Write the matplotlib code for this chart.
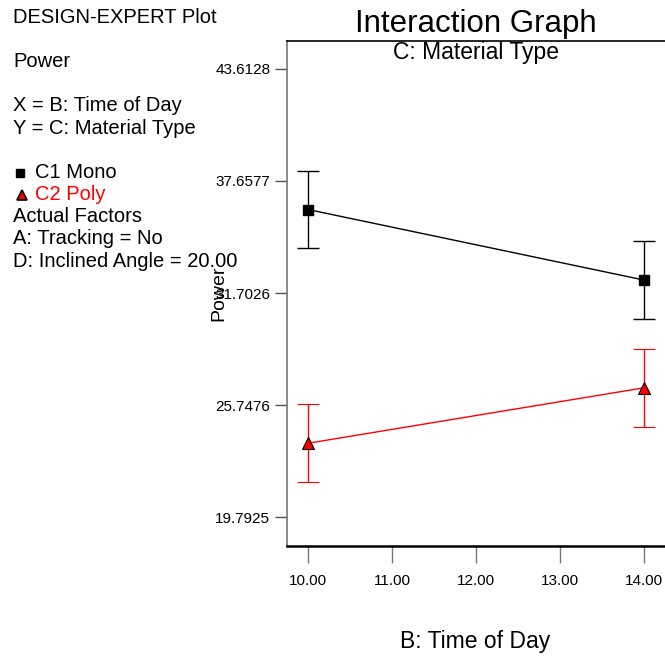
import numpy as np
import matplotlib.pyplot as plt

plt.rcParams['font.family'] = ['Liberation Sans', 'DejaVu Sans']

# time of day levels and predicted power for each material type
time_of_day = [10.0, 14.0]
mono_power = [36.14, 32.40]
poly_power = [23.73, 26.67]
lsd_half = [2.06, 2.06]

y_ticks = [19.7925, 25.7476, 31.7026, 37.6577, 43.6128]
x_ticks = [10.0, 11.0, 12.0, 13.0, 14.0]

fig = plt.figure(figsize=(6.65, 6.56), dpi=100)
ax = fig.add_axes([287/665, 1 - 546/656, 1 - 287/665, (546 - 40.5)/656])

ax.errorbar(time_of_day, mono_power, yerr=lsd_half, color='black', lw=1,
            marker='s', ms=7, mfc='black', mec='black', capsize=8, capthick=1,
            elinewidth=1)
ax.errorbar(time_of_day, poly_power, yerr=lsd_half, color='red', lw=1,
            marker='^', ms=9, mfc='red', mec='black', mew=0.8, capsize=8,
            capthick=1, elinewidth=1, ecolor='red')

ax.set_xlim(9.746, 14.254)
ax.set_ylim(18.27, 45.12)
ax.set_xticks(x_ticks)
ax.set_xticklabels(['%.2f' % v for v in x_ticks], fontsize=11)
ax.set_yticks(y_ticks)
ax.set_yticklabels(['%.4f' % v for v in y_ticks], fontsize=11)
ax.tick_params(axis='y', direction='out', length=9, width=1, color='#555555', pad=3)
ax.tick_params(axis='x', direction='out', length=12, width=1, color='#777777', pad=8)

ax.spines['right'].set_visible(False)
ax.spines['left'].set_color('#777777')
ax.spines['left'].set_linewidth(1.2)
ax.spines['bottom'].set_linewidth(1.8)
ax.spines['top'].set_linewidth(1.2)

ax.set_ylabel('Power', fontsize=14)
ax.yaxis.set_label_coords(-0.159, 0.5)
fig.text(476/665, 1 - 32/656, 'Interaction Graph', fontsize=22.5, ha='center',
         va='baseline')
fig.text(476/665, 1 - 59/656, 'C: Material Type', fontsize=16.5, ha='center',
         va='baseline')
fig.text(475/665, 1 - 648/656, 'B: Time of Day', fontsize=16.5, ha='center',
         va='baseline')

# design info block on the left
left_lines = [
    ('DESIGN-EXPERT Plot', 23, 'black'),
    ('Power', 67, 'black'),
    ('X = B: Time of Day', 111, 'black'),
    ('Y = C: Material Type', 134, 'black'),
    ('C1 Mono', 178, 'black'),
    ('C2 Poly', 200, 'red'),
    ('Actual Factors', 222, 'black'),
    ('A: Tracking = No', 244, 'black'),
    ('D: Inclined Angle = 20.00', 267, 'black'),
]
for txt, yb, col in left_lines:
    x0 = 35 if txt.startswith('C') and txt[1].isdigit() else 13
    fig.text(x0/665, 1 - yb/656, txt, fontsize=14.5, color=col, va='baseline')

fig.lines.append(plt.Line2D([20/665], [1 - 173/656], marker='s', ms=6,
                            color='black', transform=fig.transFigure))
fig.lines.append(plt.Line2D([22/665], [1 - 195/656], marker='^', ms=7,
                            mfc='red', mec='black', mew=1.2, color='black',
                            transform=fig.transFigure))

fig.savefig('out.png', dpi=100)
